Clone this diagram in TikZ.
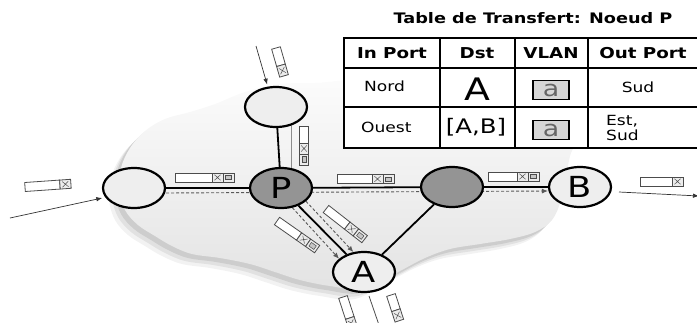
\documentclass[tikz,border=0pt]{standalone}
\usepackage{fontspec}
\setmainfont{DejaVu Sans}[FakeStretch=1.22]
\usetikzlibrary{shapes.geometric,arrows.meta}
\pgfdeclarelayer{cloudlayer}
\pgfdeclarelayer{edgelayer}
\pgfsetlayers{cloudlayer,edgelayer,main}
\newcommand{\fsz}[1]{\fontsize{#1}{#1}\selectfont}
\tikzset{
  netnode/.style={ellipse, draw, line width=2.2pt, minimum width=62pt, minimum height=40pt, inner sep=0pt, font=\fsz{29}},
  lightnode/.style={netnode, fill=gray!13},
  darknode/.style={netnode, fill=black!42},
  link/.style={line width=1.8pt},
  flow/.style={densely dashed, line width=0.9pt, black!65, -{Latex[length=6pt,width=5pt]}},
  thinflow/.style={line width=0.8pt, black!45},
  inarrow/.style={line width=0.7pt, black!80, -{Latex[length=6pt,width=4.5pt]}},
  pkline/.style={line width=0.8pt, draw=black!70},
  tabh/.style={font=\bfseries\fsz{15}, inner sep=0pt},
  tabc/.style={font=\fsz{14}, inner sep=0pt},
  vlanbox/.style={draw, line width=1.2pt, fill=gray!32, minimum width=36pt, minimum height=19pt, inner sep=0pt, font=\fsz{22}, text=black!60},
  pics/pkx/.style={code={
    \draw[pkline, fill=white] (0,-4.5) rectangle (#1,4.5);
    \draw[pkline, fill=gray!15] (#1,-4.5) rectangle (#1+11,4.5);
    \draw[line width=0.5pt, black!70] (#1+2.5,-2.8) -- (#1+8.5,2.8) (#1+2.5,2.8) -- (#1+8.5,-2.8);
  }},
  pics/pkxa/.style={code={
    \draw[pkline, fill=white] (0,-4.5) rectangle (#1,4.5);
    \draw[pkline, fill=gray!15] (#1,-4.5) rectangle (#1+11,4.5);
    \draw[line width=0.5pt, black!70] (#1+2.5,-2.8) -- (#1+8.5,2.8) (#1+2.5,2.8) -- (#1+8.5,-2.8);
    \draw[pkline, fill=gray!15] (#1+11,-4.5) rectangle (#1+22,4.5);
    \draw[line width=0.5pt, black!70, fill=gray!45] (#1+13.5,-2.2) rectangle (#1+19.5,2.2);
  }},
}
\begin{document}
\begin{tikzpicture}[x=1pt,y=-1pt]
\useasboundingbox (0,0) rectangle (697,322);
\clip (0,0) rectangle (697,322);

% cloud
\begin{pgfonlayer}{cloudlayer}
\foreach \s/\o in {10/0.05,7/0.07,4/0.09}{
\fill[black, opacity=\o, shift={(-\s,\s)}] plot[smooth cycle, tension=0.6] coordinates {
 (345,80) (315,83) (280,84) (245,92) (215,104) (190,112) (165,119) (145,131) (130,148) (121,168)
 (119,190) (125,210) (138,225) (155,236) (172,246) (192,254) (220,258) (250,264) (275,272)
 (300,280) (330,286) (365,289) (400,271) (425,258) (450,249) (480,244) (510,239) (535,232)
 (552,220) (561,200) (566,176) (570,156) (575,138) (565,104) (520,82) (450,72) (390,74)};
}
\shade[top color=gray!2, bottom color=gray!22] plot[smooth cycle, tension=0.6] coordinates {
 (345,80) (315,83) (280,84) (245,92) (215,104) (190,112) (165,119) (145,131) (130,148) (121,168)
 (119,190) (125,210) (138,225) (155,236) (172,246) (192,254) (220,258) (250,264) (275,272)
 (300,280) (330,286) (365,289) (400,271) (425,258) (450,249) (480,244) (510,239) (535,232)
 (552,220) (561,200) (566,176) (570,156) (575,138) (565,104) (520,82) (450,72) (390,74)};
\end{pgfonlayer}

% nodes
\node[lightnode] (W) at (134,188) {};
\node[lightnode] (N) at (276,107) {};
\node[darknode]  (P) at (281,188) {P};
\node[darknode]  (M) at (452,187) {};
\node[lightnode] (B) at (580,187) {B};
\node[lightnode] (A) at (364,272) {A};

% edges and flows
\begin{pgfonlayer}{edgelayer}
\draw[link] (W) -- (P);
\draw[link] (P) -- (M);
\draw[link] (M) -- (B);
\draw[link] (N) -- (P);
\draw[link] (P) -- (A);
\draw[link] (M) -- (A);
\draw[flow] ([yshift=-5pt]W.east) -- ([yshift=-4pt]B.west);
\draw[flow] (P.-60) -- (A.152);
\draw[flow] (P.-28) -- (A.118);
\draw[thinflow] (N.-50) -- (P.62);
\end{pgfonlayer}

% outside connectors
\coordinate (inW) at (10,218);
\coordinate (inN) at (256,46);
\coordinate (outB1) at (619,192);
\coordinate (outB2) at (699,196);
\coordinate (outA1) at (369,296);
\coordinate (outA2) at (379,325);
\draw[inarrow, shorten >=3pt] (inW) -- (W.198);
\draw[inarrow, shorten >=2pt] (inN) -- (N.112);
\draw[inarrow] (outB1) -- (outB2);
\draw[line width=0.8pt, black!70] (outA1) -- (outA2);

% packets
\pic[rotate=4] at (25,187) {pkx=35};
\pic at (175,177.5) {pkxa=37};
\pic at (337,179) {pkxa=35};
\pic at (488,176.5) {pkxa=29};
\pic at (640,181.5) {pkx=32};
\pic[rotate=-74] at (276,48) {pkx=18};
\pic[rotate=-90] at (304,126) {pkxa=17};
\pic[rotate=-35] at (277,221) {pkxa=27};
\pic[rotate=-38] at (326,209) {pkxa=27};
\pic[rotate=-72] at (343,297) {pkxa=22};
\pic[rotate=-72] at (391,295) {pkx=16};

% table
\node[font=\bfseries\fsz{14.5}, inner sep=0pt] (title) at (533,18) {Table de Transfert: Noeud P};
\fill[white] (344,38) rectangle (702,148);
\draw[line width=2pt] (344,38) rectangle (702,148);
\draw[line width=2pt] (344,68) -- (702,68) (344,107) -- (702,107)
  (440,38) -- (440,148) (515,38) -- (515,148) (588,38) -- (588,148);
\node[tabh] (h1) at (392,53) {In Port};
\node[tabh] (h2) at (477,53) {Dst};
\node[tabh] (h3) at (551,53) {VLAN};
\node[tabh] (h4) at (643,53) {Out Port};
\node[tabc, anchor=west] (c11) at (364,86) {Nord};
\node[font=\fsz{31}, inner sep=0pt] (c12) at (477,89) {A};
\node[vlanbox] (c13) at (551,90) {a};
\node[tabc] (c14) at (638,87) {Sud};
\node[tabc, anchor=west] (c21) at (361,127) {Ouest};
\node[font=\fsz{20}, inner sep=0pt] (c22) at (476,127) {[A,B]};
\node[vlanbox] (c23) at (551,130) {a};
\node[anchor=west, align=left, inner sep=0pt, font=\fontsize{14}{15}\selectfont] (c24) at (606,128) {Est,\\Sud};
\end{tikzpicture}
\end{document}
